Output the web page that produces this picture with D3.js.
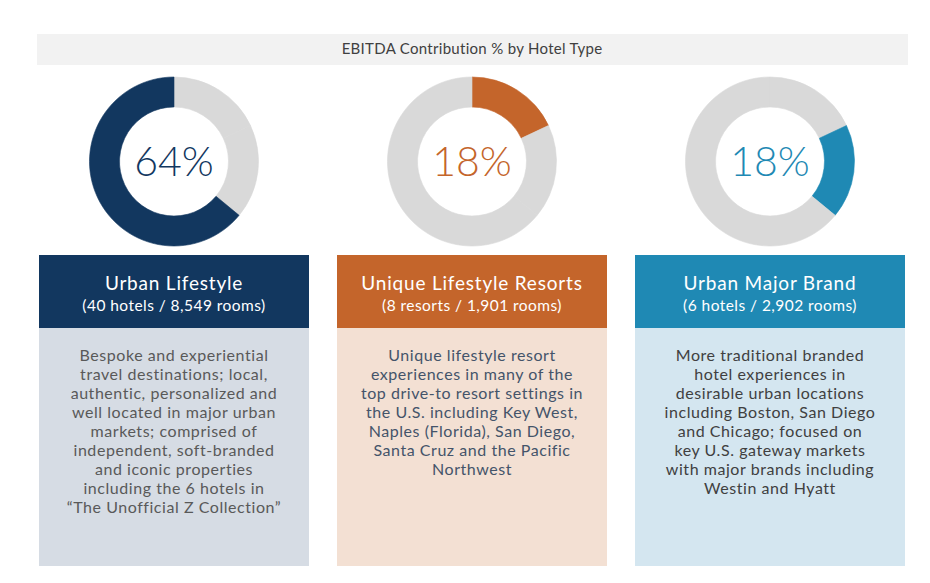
<!DOCTYPE html>
<html>
<head>
<meta charset="utf-8">
<script src="https://cdn.jsdelivr.net/npm/d3@7"></script>
<style>
  body { margin: 0; background: #fff; }
  svg text { font-family: "Lato", "DejaVu Sans", sans-serif; }
</style>
</head>
<body>
<svg width="930" height="583"></svg>
<script>
// chart data, panel order left to right
var chartTitle = 'EBITDA Contribution % by Hotel Type';
var hotelTypes = ['Urban Lifestyle', 'Unique Lifestyle Resorts', 'Urban Major Brand'];
var ebitdaPct = [64, 18, 18];
var counts = ['(40 hotels / 8,549 rooms)', '(8 resorts / 1,901 rooms)', '(6 hotels / 2,902 rooms)'];
var descriptions = [
  ['Bespoke and experiential', 'travel destinations; local,', 'authentic, personalized and',
   'well located in major urban', 'markets; comprised of', 'independent, soft-branded',
   'and iconic properties', 'including the 6 hotels in', '\u201cThe Unofficial Z Collection\u201d'],
  ['Unique lifestyle resort', 'experiences in many of the', 'top drive-to resort settings in',
   'the U.S. including Key West,', 'Naples (Florida), San Diego,', 'Santa Cruz and the Pacific',
   'Northwest'],
  ['More traditional branded', 'hotel experiences in', 'desirable urban locations',
   'including Boston, San Diego', 'and Chicago; focused on', 'key U.S. gateway markets',
   'with major brands including', 'Westin and Hyatt']
];
// slices run clockwise from 12 o'clock in this order
var sliceOrder = [1, 2, 0];

var mainColors = ['#12375f', '#c4652b', '#1f89b4'];
var bodyColors = ['#d6dce4', '#f3e0d3', '#d4e6f0'];
var bodyText = ['#595959', '#44546a', '#404040'];

var svg = d3.select('svg');

// title band
svg.append('rect')
    .attr('x', 37).attr('y', 34)
    .attr('width', 871).attr('height', 31)
    .style('fill', '#f2f2f2');
svg.append('text')
    .text(chartTitle)
    .attr('x', 472).attr('y', 54)
    .attr('text-anchor', 'middle')
    .style('font-size', '15px')
    .style('letter-spacing', '0.3px')
    .style('fill', '#404040');

var x = d3.scaleBand()
    .domain(hotelTypes)
    .range([39, 905])
    .paddingInner(0.094);

var pie = d3.pie().sort(null).value(function(i) { return ebitdaPct[i]; });
var arcs = pie(sliceOrder);
var arc = d3.arc().innerRadius(54.5).outerRadius(84.5);

var panels = svg.selectAll('g.panel')
    .data(hotelTypes)
    .enter()
    .append('g')
    .attr('class', 'panel')
    .attr('transform', function(d) { return 'translate(' + x(d) + ',0)'; });

panels.each(function(name, p) {
  var g = d3.select(this);
  var cx = x.bandwidth() / 2;

  var donut = g.append('g').attr('transform', 'translate(' + cx + ',161.5)');
  donut.selectAll('path')
      .data(arcs)
      .enter()
      .append('path')
      .attr('d', arc)
      .style('fill', function(a) { return a.data === p ? mainColors[p] : '#d9d9d9'; })
      .style('stroke', function(a) { return a.data === p ? mainColors[p] : '#d9d9d9'; })
      .style('stroke-width', 0.6);
  donut.append('text')
      .text(ebitdaPct[p] + '%')
      .attr('text-anchor', 'middle')
      .attr('y', 14)
      .style('font-size', '41px')
      .style('font-weight', 300)
      .style('fill', mainColors[p]);

  // header
  g.append('rect')
      .attr('y', 255).attr('width', x.bandwidth()).attr('height', 73)
      .style('fill', mainColors[p]);
  g.append('text')
      .text(name)
      .attr('x', cx).attr('y', 290)
      .attr('text-anchor', 'middle')
      .style('font-size', '19px')
      .style('letter-spacing', '0.8px')
      .style('fill', '#fff');
  g.append('text')
      .text(counts[p])
      .attr('x', cx).attr('y', 311)
      .attr('text-anchor', 'middle')
      .style('font-size', '15.5px')
      .style('letter-spacing', '0.45px')
      .style('fill', '#fff');

  // description
  g.append('rect')
      .attr('y', 328).attr('width', x.bandwidth()).attr('height', 238)
      .style('fill', bodyColors[p]);
  g.append('g')
      .selectAll('text')
      .data(descriptions[p])
      .enter()
      .append('text')
      .text(function(d) { return d; })
      .attr('x', cx)
      .attr('y', function(d, i) { return 361 + i * 19; })
      .attr('text-anchor', 'middle')
      .style('font-size', '16px')
      .style('letter-spacing', '0.55px')
      .style('fill', bodyText[p]);
});
</script>
</body>
</html>
